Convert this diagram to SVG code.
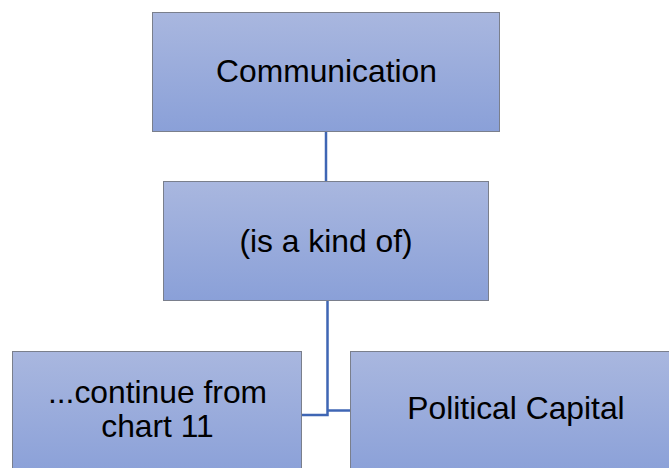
<svg xmlns="http://www.w3.org/2000/svg" width="669" height="468" viewBox="0 0 669 468">
  <defs>
    <linearGradient id="boxFill" x1="0" y1="0" x2="0" y2="1">
      <stop offset="0" stop-color="#a9b7df"/>
      <stop offset="1" stop-color="#8aa0d8"/>
    </linearGradient>
    <style>
      .box { fill: url(#boxFill); stroke: #7a7f8c; stroke-width: 1; }
      .label { font-family: "Liberation Sans", Arial, sans-serif; font-size: 31.8px; fill: #000; text-anchor: middle; }
      .link { fill: none; stroke: #3f66b4; stroke-width: 2.5; }
    </style>
  </defs>

  <rect width="669" height="468" fill="#ffffff"/>

  <!-- connectors -->
  <g id="connectors">
    <path class="link" d="M326 131 V181"/>
    <path class="link" d="M327.5 300 V415 H302"/>
    <path class="link" d="M327.5 410.5 H350"/>
  </g>

  <!-- root node -->
  <g id="node-communication">
    <rect class="box" x="152.5" y="12.5" width="347" height="119"/>
    <text class="label" x="326.5" y="82">Communication</text>
  </g>

  <!-- relation node -->
  <g id="node-kind-of">
    <rect class="box" x="163.5" y="181.5" width="325" height="119"/>
    <text class="label" x="326" y="252">(is a kind of)</text>
  </g>

  <!-- child nodes -->
  <g id="node-continue">
    <rect class="box" x="12.5" y="351.5" width="289" height="125"/>
    <text class="label" x="157.5" y="403">...continue from</text>
    <text class="label" x="157.5" y="437">chart 11</text>
  </g>

  <g id="node-political-capital">
    <rect class="box" x="350.5" y="351.5" width="332" height="125"/>
    <text class="label" x="516" y="419">Political Capital</text>
  </g>
</svg>
